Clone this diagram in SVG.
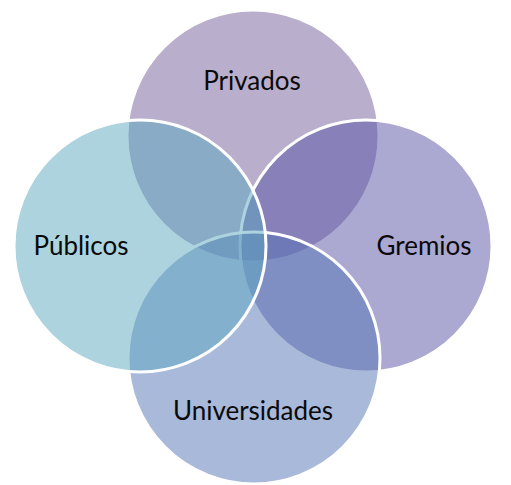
<svg xmlns="http://www.w3.org/2000/svg" width="511" height="485" viewBox="0 0 511 485">
<style>
.c{fill-opacity:0.5;stroke:#ffffff;stroke-width:3}
.t{font-family:Lato,"Open Sans","Liberation Sans",sans-serif;font-size:26px;fill:#0a0a0a;text-anchor:middle}
</style>
<rect width="511" height="485" fill="#ffffff"/>
<g id="privados">
<circle class="c" cx="253" cy="136" r="126" fill="#735d99"/>
</g>
<g id="gremios">
<circle class="c" cx="366" cy="246" r="126" fill="#5751a3"/>
</g>
<g id="universidades">
<circle class="c" cx="254" cy="358" r="126" fill="#5373b5"/>
</g>
<g id="publicos">
<circle class="c" cx="140" cy="246" r="126" fill="#5ba7bf"/>
</g>
<g id="labels">
<text class="t" x="252" y="90">Privados</text>
<text class="t" x="81" y="255">Públicos</text>
<text class="t" x="424" y="255">Gremios</text>
<text class="t" x="253" y="420">Universidades</text>
</g>
<g id="connectors"></g>
</svg>
